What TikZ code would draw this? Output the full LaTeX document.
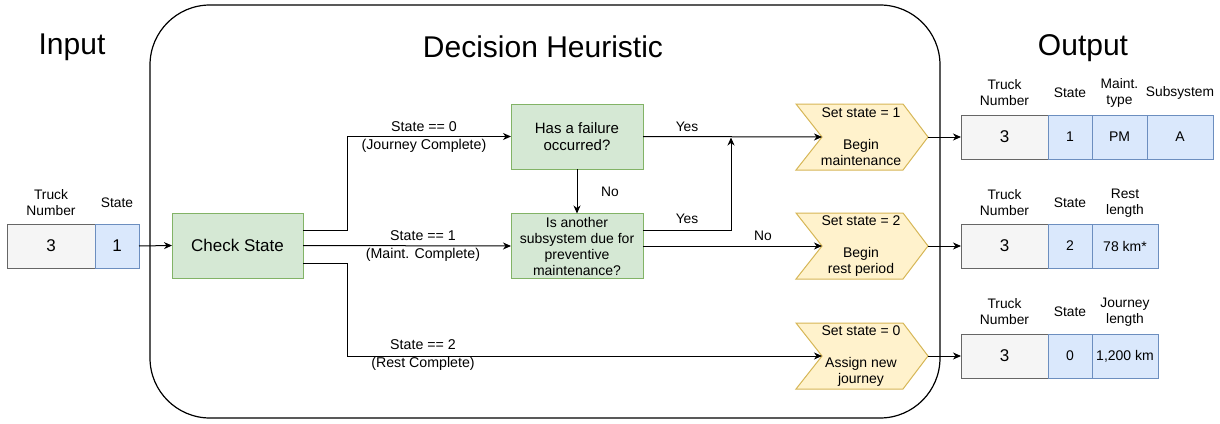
\documentclass[tikz,border=0pt]{standalone}
\usepackage{fontspec}
\setmainfont{Liberation Sans}
\usetikzlibrary{arrows.meta,calc}
\definecolor{grayF}{HTML}{F5F5F5}
\definecolor{grayD}{HTML}{666666}
\definecolor{blueF}{HTML}{DAE8FC}
\definecolor{blueD}{HTML}{6C8EBF}
\definecolor{greenF}{HTML}{D5E8D4}
\definecolor{greenD}{HTML}{82B366}
\definecolor{yelF}{HTML}{FFF2CC}
\definecolor{yelD}{HTML}{D6B656}
\begin{document}
\begin{tikzpicture}[x=1pt,y=-1pt,
  every node/.style={inner sep=0pt,outer sep=0pt},
  gcell/.style={draw=grayD,fill=grayF,line width=1pt,minimum height=44pt,font=\fontsize{17}{20}\selectfont},
  bcell/.style={draw=blueD,fill=blueF,line width=1pt,minimum height=44pt,font=\fontsize{14}{16}\selectfont},
  gbox/.style={draw=greenD,fill=greenF,line width=1pt,minimum width=132pt,minimum height=65pt,align=center,font=\fontsize{14}{16}\selectfont},
  chev/.style={draw=yelD,fill=yelF,line width=1pt,line join=miter},
  ctext/.style={align=center,font=\fontsize{14}{16}\selectfont},
  hdr/.style={align=center,font=\fontsize{13.8}{16}\selectfont},
  lbl/.style={align=center,font=\fontsize{14.2}{18}\selectfont},
  title/.style={font=\fontsize{30}{34}\selectfont},
  arr/.style={-{Stealth[length=8pt,width=7pt,inset=2.5pt]},line width=1pt},
  ln/.style={line width=1pt}]
\useasboundingbox (0,0) rectangle (1220,423);

% big frame
\draw[line width=1.2pt,rounded corners=60pt] (150,5) rectangle (940,418);

% titles
\node[title] (tin) at (72,47) {Input};
\node[title] (tdh) at (543,47) {Decision Heuristic};
\node[title] (tout) at (1083,48) {Output};

% input
\node[gcell,minimum width=88pt] (in3) at (51,246) {3};
\node[bcell,minimum width=44pt,font=\fontsize{17}{20}\selectfont] (in1) at (117,246) {1};
\node[hdr] (hin3) at (51,203) {Truck\\Number};
\node[hdr] (hin1) at (117,203) {State};

% decision boxes
\node[gbox,minimum width=131pt,font=\fontsize{17}{20}\selectfont] (cs) at (237.5,245.5) {Check State};
\node[gbox,font=\fontsize{15}{17}\selectfont] (fail) at (577,136.5) {Has a failure\\occurred?};
\node[gbox] (other) at (577,246) {Is another\\subsystem due for\\preventive\\maintenance?};

% chevrons
\draw[chev] (796,104) -- (903,104) -- (928,137) -- (903,170) -- (796,170) -- (822,137) -- cycle;
\draw[chev] (796,213) -- (903,213) -- (928,246) -- (903,279) -- (796,279) -- (822,246) -- cycle;
\draw[chev] (796,323) -- (903,323) -- (928,356) -- (903,389) -- (796,389) -- (822,356) -- cycle;
\coordinate (c1in) at (822,137); \coordinate (c1out) at (928,137);
\coordinate (c2in) at (822,246); \coordinate (c2out) at (928,246);
\coordinate (c3in) at (822,356); \coordinate (c3out) at (928,356);
\node[ctext] (t1) at (861,137) {Set state = 1\\[16pt]Begin\\maintenance};
\node[ctext] (t2) at (861,246) {Set state = 2\\[16pt]Begin\\rest period};
\node[ctext] (t3) at (861,356) {Set state = 0\\[16pt]Assign new\\journey};

% output row 1
\node[gcell,minimum width=87pt] (o1a) at (1004.5,137) {3};
\node[bcell,minimum width=44pt] (o1b) at (1070,137) {\raisebox{-2pt}{1}};
\node[bcell,minimum width=55pt] (o1c) at (1119.5,137) {PM};
\node[bcell,minimum width=66pt] (o1d) at (1180,137) {A};
\node[hdr] (h1a) at (1004.5,93) {Truck\\Number};
\node[hdr] (h1b) at (1070,93) {State};
\node[hdr] (h1c) at (1119.5,93) {Maint.\\type};
\node[hdr] (h1d) at (1180,93) {Subsystem};

% output row 2
\node[gcell,minimum width=87pt] (o2a) at (1004.5,246) {3};
\node[bcell,minimum width=44pt] (o2b) at (1070,246) {\raisebox{-2pt}{2}};
\node[bcell,minimum width=66pt] (o2c) at (1125,246) {78 km*};
\node[hdr] (h2a) at (1004.5,203) {Truck\\Number};
\node[hdr] (h2b) at (1070,203) {State};
\node[hdr] (h2c) at (1125,203) {Rest\\length};

% output row 3
\node[gcell,minimum width=87pt] (o3a) at (1004.5,356) {3};
\node[bcell,minimum width=44pt] (o3b) at (1070,356) {\raisebox{-2pt}{0}};
\node[bcell,minimum width=66pt] (o3c) at (1125,356) {1,200 km};
\node[hdr] (h3a) at (1004.5,312) {Truck\\Number};
\node[hdr] (h3b) at (1070,312) {State};
\node[hdr] (h3c) at (1125,312) {Journey\\length};

% connectors
\draw[arr] (in1.east) -- (cs.west);
\draw[arr] ([yshift=15.5pt]cs.east) -- ++(44,0) |- (fail.west);
\draw[arr] (cs.east) -- (other.west);
\draw[arr] ([yshift=-17.5pt]cs.east) -- ++(44,0) |- (c3in);
\node[lbl] (l0) at (424,137) {State == 0\\(Journey Complete)};
\node[lbl] (l1) at (423,246) {State == 1\\(Maint. Complete)};
\node[lbl] (l2) at (423,355.5) {State == 2\\(Rest Complete)};

\draw[arr] (fail.south) -- (other.north);
\node[hdr] (lno1) at (610,192) {No};
\draw[arr] (fail.east) -- (c1in);
\node[hdr] (lyes1) at (687,127) {Yes};
\draw[arr] ([yshift=16pt]other.east) -- (731,230) -- (731,137.5);
\node[hdr] (lyes2) at (687,219) {Yes};
\draw[arr] (other.east) -- (c2in);
\node[hdr] (lno2) at (763,236) {No};

\draw[arr] (c1out) -- (o1a.west);
\draw[arr] (c2out) -- (o2a.west);
\draw[arr] (c3out) -- (o3a.west);
\end{tikzpicture}
\end{document}
